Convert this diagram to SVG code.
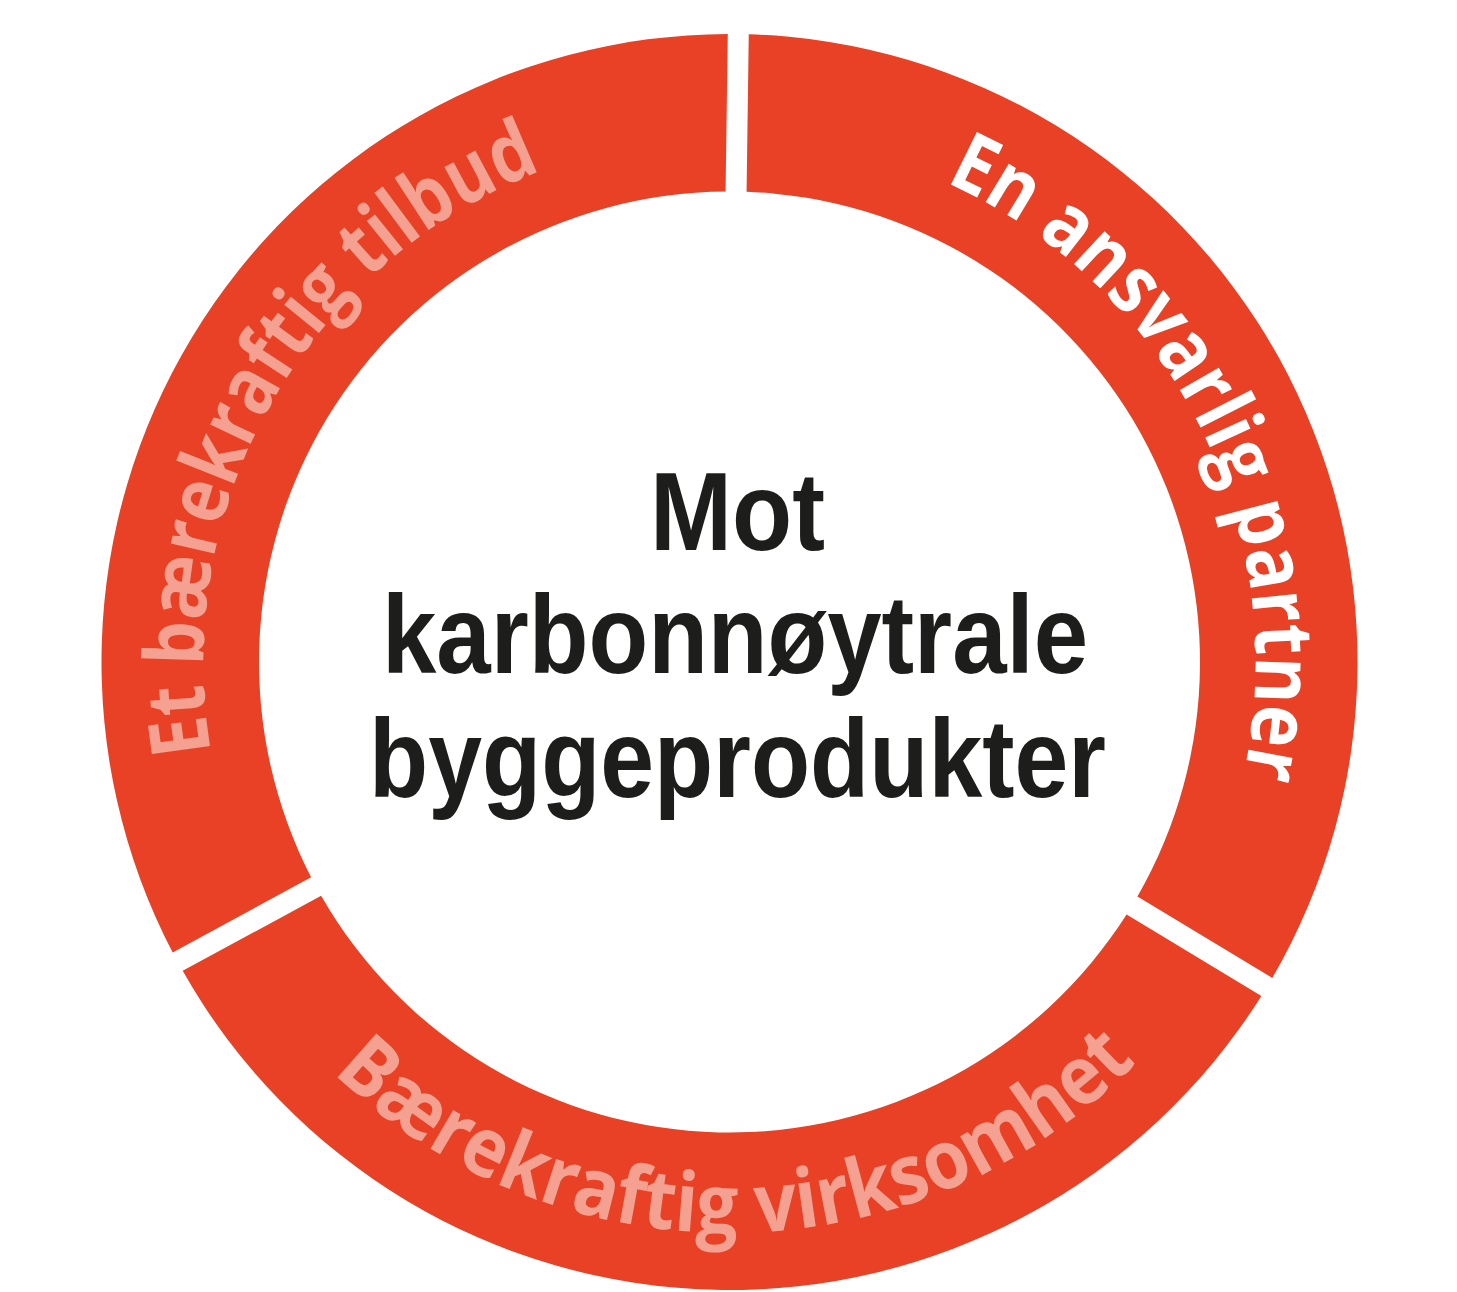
<svg xmlns="http://www.w3.org/2000/svg" width="1457" height="1292" viewBox="0 0 1457 1292">
  <style>
    .seg { fill: #e84125; }
    .ring-text { font-family: "Open Sans", "Liberation Sans", sans-serif; font-weight: 700; font-size: 82px; }
    .salmon { fill: #f4a192; }
    .white { fill: #ffffff; }
    .center { font-family: "Liberation Sans", Arial, sans-serif; font-weight: 700; font-size: 112px; fill: #1d1d1b; text-anchor: middle; }
  </style>
  <defs>
    <path id="arcLeft" d="M 430.81 1094.98 A 526 526 0 0 1 948.47 183.73"/>
    <path id="arcRight" d="M 535.43 173.10 A 526 526 0 0 1 1005.51 1109.78"/>
    <path id="arcBottom" d="M 161.37 719.20 A 571 571 0 0 0 1298.93 704.32"/>
  </defs>
  <rect width="1457" height="1292" fill="#ffffff"/>

  <g id="segment-left">
    <path class="seg" d="M 172.67 952.39 A 628 628 0 0 1 727.77 34.00 L 725.57 191.51 A 470.5 470.5 0 0 0 311.10 877.22 Z"/>
    <text class="ring-text salmon"><textPath href="#arcLeft" startOffset="50%" text-anchor="middle" textLength="725" lengthAdjust="spacingAndGlyphs">Et bærekraftig tilbud</textPath></text>
  </g>

  <g id="segment-right">
    <path class="seg" d="M 748.77 34.30 A 628 628 0 0 1 1272.26 977.92 L 1137.45 896.40 A 470.5 470.5 0 0 0 746.57 191.81 Z"/>
    <text class="ring-text white"><textPath href="#arcRight" startOffset="50%" text-anchor="middle" textLength="719" lengthAdjust="spacingAndGlyphs">En ansvarlig partner</textPath></text>
  </g>

  <g id="segment-bottom">
    <path class="seg" d="M 1261.39 995.89 A 628 628 0 0 1 182.69 970.84 L 321.13 895.68 A 470.5 470.5 0 0 0 1126.60 914.38 Z"/>
    <text class="ring-text salmon"><textPath href="#arcBottom" startOffset="50%" text-anchor="middle" textLength="892" lengthAdjust="spacingAndGlyphs">Bærekraftig virksomhet</textPath></text>
  </g>

  <g id="center-label">
    <text class="center" x="737.5" y="550" textLength="175" lengthAdjust="spacingAndGlyphs">Mot</text>
    <text class="center" x="735" y="673" textLength="706" lengthAdjust="spacingAndGlyphs">karbonnøytrale</text>
    <text class="center" x="737.5" y="797" textLength="737" lengthAdjust="spacingAndGlyphs">byggeprodukter</text>
  </g>

  <g id="connectors"></g>
</svg>
